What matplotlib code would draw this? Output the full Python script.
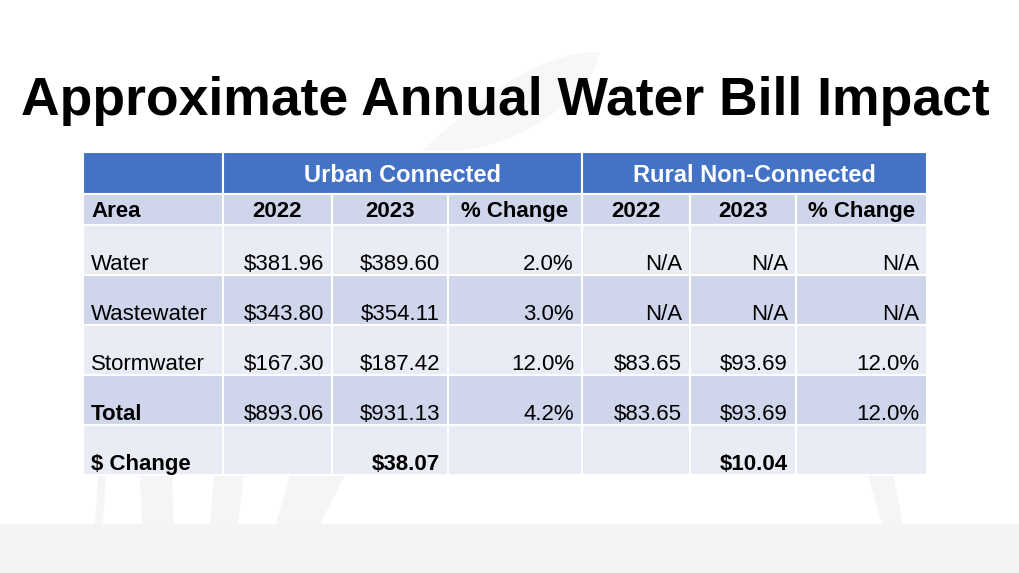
import matplotlib.pyplot as plt
from matplotlib.patches import Rectangle, Polygon
import numpy as np

#%% Data #####################################################################

title = "Approximate Annual Water Bill Impact"
groups = ["Urban Connected", "Rural Non-Connected"]
col_labels = ["Area", "2022", "2023", "% Change", "2022", "2023", "% Change"]
areas = ["Water", "Wastewater", "Stormwater", "Total", "$ Change"]
urban_2022 = ["$381.96", "$343.80", "$167.30", "$893.06", ""]
urban_2023 = ["$389.60", "$354.11", "$187.42", "$931.13", "$38.07"]
urban_pct = ["2.0%", "3.0%", "12.0%", "4.2%", ""]
rural_2022 = ["N/A", "N/A", "$83.65", "$83.65", ""]
rural_2023 = ["N/A", "N/A", "$93.69", "$93.69", "$10.04"]
rural_pct = ["N/A", "N/A", "12.0%", "12.0%", ""]

#%% Layout ###################################################################

col_edges = [83, 223, 332, 448, 582, 690, 796, 927]
head1 = (152, 194)
head2 = (194, 225)
row_h = 50
blue = "#4472C4"
dark = "#CFD5EA"
light = "#E9EBF5"
font = "Liberation Sans"

fig = plt.figure(figsize=(10.2, 5.73), dpi=100)
ax = fig.add_axes([0, 0, 1, 1])
ax.set_xlim(0, 1020)
ax.set_ylim(573, 0)
ax.axis("off")

# faint background swooshes
bg = "#F5F5F5"
ax.add_patch(Rectangle((0, 524), 1020, 49, color="#F4F4F4", lw=0, zorder=0))
for pts in [[(98, 475), (106, 475), (103, 524), (95, 524)],
            [(140, 475), (172, 475), (174, 524), (142, 524)],
            [(214, 475), (244, 475), (238, 524), (210, 524)],
            [(290, 475), (345, 475), (320, 524), (276, 524)],
            [(868, 475), (893, 475), (903, 524), (882, 524)]]:
    ax.add_patch(Polygon(pts, closed=True, color=bg, lw=0, zorder=0))

# crescent behind the title
t = np.linspace(0, 1, 40)
outer = np.column_stack([420 + 180 * t, 152 - 100 * np.sin(t * np.pi / 2)])
inner = np.column_stack([600 - 160 * t, 52 + 100 * np.sin(t * np.pi / 2) ** 0.6])
ax.add_patch(Polygon(np.vstack([outer, inner]), closed=True, color="#F7F7F7",
                     lw=0, zorder=0))

ax.text(505, 101, title, ha="center", va="center", fontsize=38.5,
        fontweight="bold", family=font, color="black")

def cell(x0, x1, y0, y1, color):
    ax.add_patch(Rectangle((x0, y0), x1 - x0, y1 - y0, facecolor=color,
                           edgecolor="white", lw=1.5, zorder=1))

# group header row
cell(col_edges[0], col_edges[1], *head1, blue)
for i, g in enumerate(groups):
    x0, x1 = col_edges[1 + 3 * i], col_edges[4 + 3 * i]
    cell(x0, x1, *head1, blue)
    ax.text((x0 + x1) / 2, sum(head1) / 2 + 2, g, ha="center", va="center",
            fontsize=17, fontweight="bold", color="white", family=font, zorder=2)

# column header row
for j, lab in enumerate(col_labels):
    x0, x1 = col_edges[j], col_edges[j + 1]
    cell(x0, x1, *head2, dark)
    if j == 0:
        ax.text(x0 + 8, sum(head2) / 2 + 2, lab, ha="left", va="center",
                fontsize=16, fontweight="bold", family=font, zorder=2)
    else:
        ax.text((x0 + x1) / 2, sum(head2) / 2 + 2, lab, ha="center",
                va="center", fontsize=16, fontweight="bold", family=font,
                zorder=2)

# body rows
columns = [areas, urban_2022, urban_2023, urban_pct,
           rural_2022, rural_2023, rural_pct]
for r in range(len(areas)):
    y0 = head2[1] + r * row_h
    y1 = y0 + row_h
    color = light if r % 2 == 0 else dark
    bold = areas[r] in ("Total", "$ Change")
    for j, col in enumerate(columns):
        x0, x1 = col_edges[j], col_edges[j + 1]
        cell(x0, x1, y0, y1, color)
        txt = col[r]
        if not txt:
            continue
        weight = "bold" if (j == 0 and bold) or r == len(areas) - 1 else "normal"
        if j == 0:
            ax.text(x0 + 8, y1 - 13, txt, ha="left", va="center_baseline",
                    fontsize=16, fontweight=weight, family=font, zorder=2)
        else:
            ax.text(x1 - 8, y1 - 13, txt, ha="right", va="center_baseline",
                    fontsize=16, fontweight=weight, family=font, zorder=2)

fig.savefig("out.png", dpi=100)
